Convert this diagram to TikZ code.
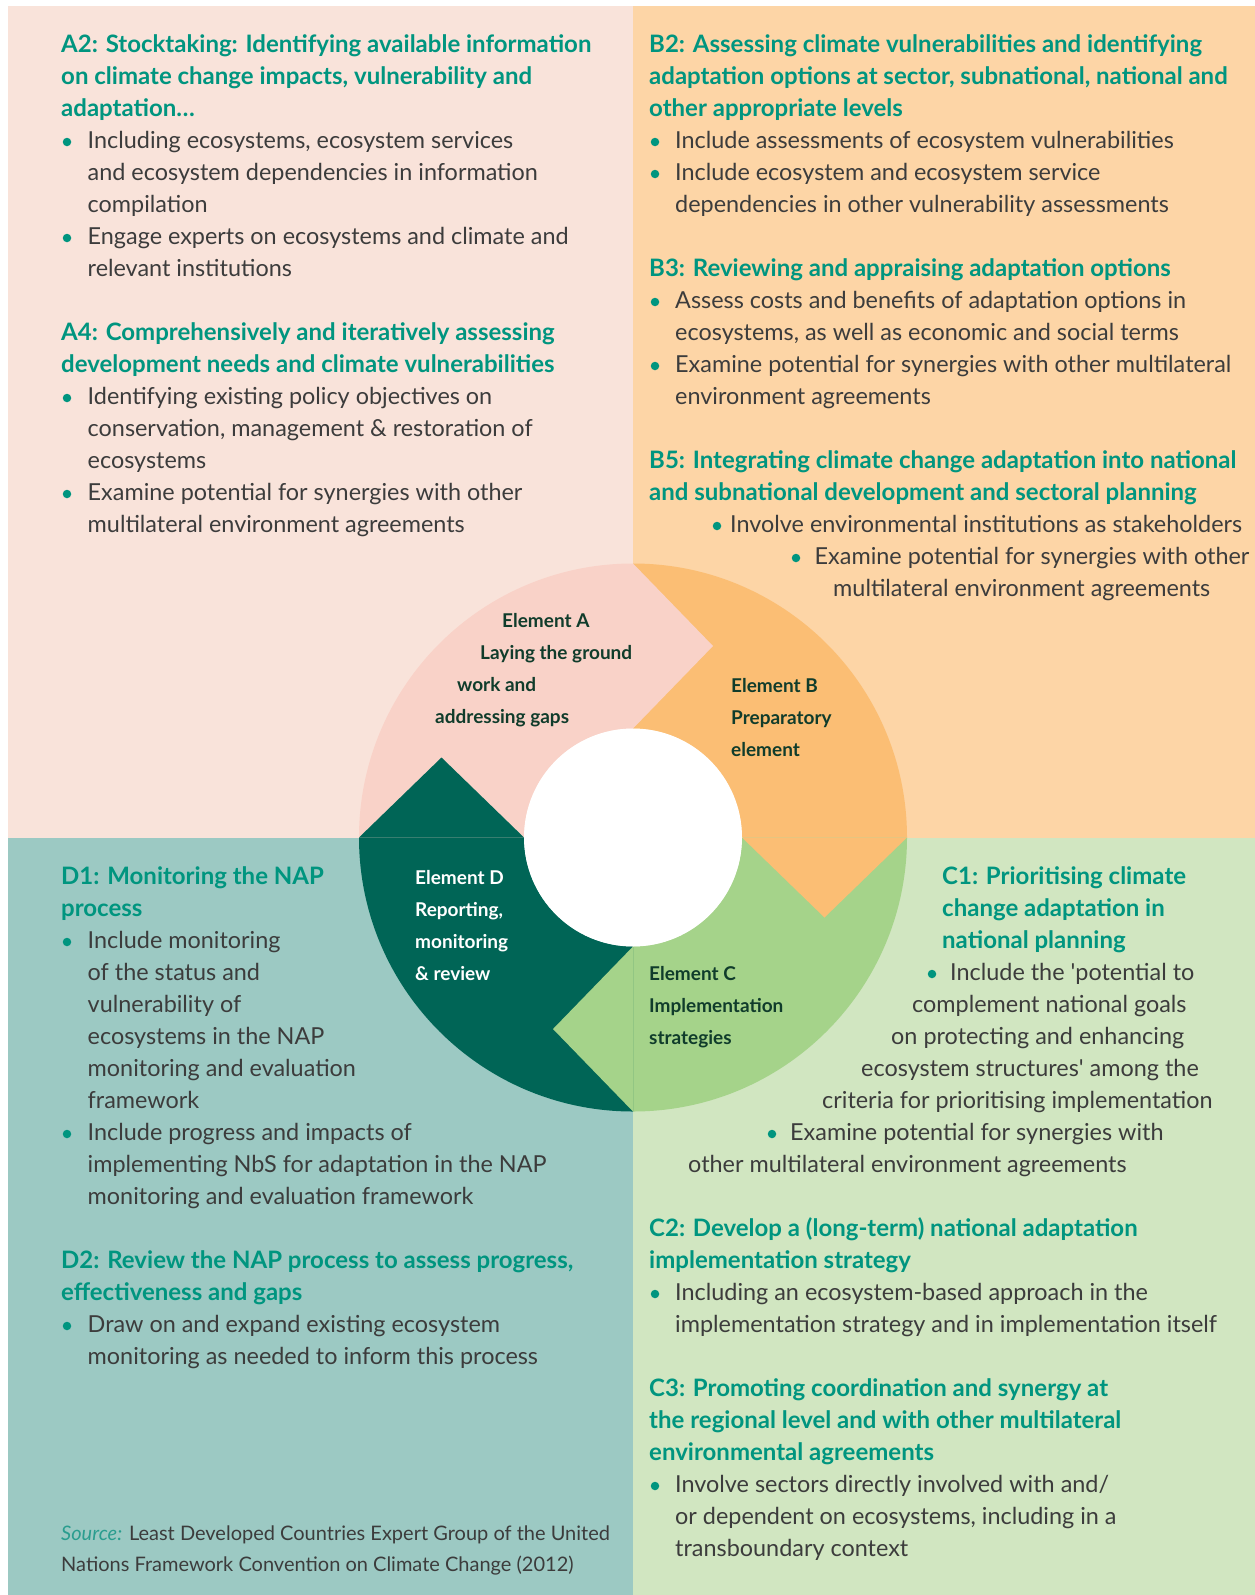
\documentclass[tikz,border=0pt]{standalone}
\usepackage{fontspec}
\setmainfont{Lato}
\definecolor{panelA}{HTML}{F9E3DA}
\definecolor{panelB}{HTML}{FDD5A6}
\definecolor{panelC}{HTML}{D1E6C1}
\definecolor{panelD}{HTML}{9CC9C3}
\definecolor{elemA}{HTML}{F9D2C8}
\definecolor{elemB}{HTML}{FBBE74}
\definecolor{elemC}{HTML}{A5D38A}
\definecolor{elemD}{HTML}{006556}
\definecolor{headteal}{HTML}{00957F}
\definecolor{bodygray}{HTML}{3C3C3C}
\definecolor{elemtext}{HTML}{103C2B}
\definecolor{srcteal}{HTML}{2A9D8F}
\tikzset{
  head/.style = {
      anchor=base west,
      inner sep=0pt,
      align=left,
      text=headteal,
      font=\fontsize{24}{32}\selectfont\bfseries
  },
  body/.style = {
      anchor=base west,
      inner sep=0pt,
      align=left,
      text=bodygray,
      font=\fontsize{23.4}{32}\selectfont
  },
  source/.style = {
      body,
      font=\fontsize{20}{31.5}\selectfont
  },
  dot/.style = {
      circle,
      fill=headteal,
      inner sep=0pt,
      minimum size=8.5pt
  },
  elem/.style = {
      anchor=base west,
      inner sep=0pt,
      text=elemtext,
      font=\fontsize{19}{32}\selectfont\bfseries
  },
  elemwhite/.style = {
      elem,
      align=left,
      text=white
  }
}
\begin{document}
\begin{tikzpicture}[x=1pt,y=-1pt]
    \useasboundingbox (0,0) rectangle (1255,1595);
    \fill[white] (0,0) rectangle (1255,1595);
    % Panels
    \fill[panelA] (8,6) rectangle (633,837.5);
    \fill[panelB] (633,6) rectangle (1255,837.5);
    \fill[panelC] (633,837.5) rectangle (1255,1595);
    \fill[panelD] (8,837.5) rectangle (633,1595);
    % Ring
    \begin{scope}[shift={(633,837.5)}]
        \fill[elemA] (180:274) arc[start angle=180, end angle=270, radius=274]
            -- (270:109) arc[start angle=270, end angle=180, radius=109] -- cycle;
        \fill[elemB] (270:274) arc[start angle=270, end angle=360, radius=274]
            -- (0:109) arc[start angle=360, end angle=270, radius=109] -- cycle;
        \fill[elemC] (0:274) arc[start angle=0, end angle=90, radius=274]
            -- (90:109) arc[start angle=90, end angle=0, radius=109] -- cycle;
        \fill[elemD] (90:274) arc[start angle=90, end angle=180, radius=274]
            -- (180:109) arc[start angle=180, end angle=90, radius=109] -- cycle;
        % Heads
        \fill[elemA] (270:274) -- (80,-191.5) -- (270:109) -- cycle;
        \fill[elemB] (0:274) -- (191.5,80) -- (0:109) -- cycle;
        \fill[elemC] (90:274) -- (-80,191.5) -- (90:109) -- cycle;
        \fill[elemD] (180:274) -- (-191.5,-80) -- (180:109) -- cycle;
        \fill[white] (0,0) circle[radius=109];
    \end{scope}
    % Element labels (multi-line nodes sit on their last baseline)
    \node[elem] (elA1) at (502,627) {Element A};
    \node[elem] (elA2) at (480,659) {Laying the ground};
    \node[elem] (elA3) at (457,691) {work and};
    \node[elem] (elA4) at (435,723) {addressing gaps};
    \node[elem] (elB1) at (731,692) {Element B};
    \node[elem] (elB2) at (731,724) {Preparatory};
    \node[elem] (elB3) at (731,756) {element};
    \node[elem] (elC1) at (649,980) {Element C};
    \node[elem] (elC2) at (649,1012) {Implementation};
    \node[elem] (elC3) at (649,1044) {strategies};
    \node[elemwhite] (elD) at (415,980) {Element D\\Reporting,\\monitoring\\\& review};
    % Panel A
    \node[head] (a2) at (61,116) {A2: Stocktaking: Identifying available information\\on climate change impacts, vulnerability and\\adaptation…};
    \node[dot] (a2d1) at (67,142) {};
    \node[body] (a2b1) at (87.5,212) {Including ecosystems, ecosystem services\\and ecosystem dependencies in information\\compilation};
    \node[dot] (a2d2) at (67,238) {};
    \node[body] (a2b2) at (87.5,276) {Engage experts on ecosystems and climate and\\relevant institutions};
    \node[head] (a4) at (61,372) {A4: Comprehensively and iteratively assessing\\development needs and climate vulnerabilities};
    \node[dot] (a4d1) at (67,398) {};
    \node[body] (a4b1) at (87.5,468) {Identifying existing policy objectives on\\conservation, management \& restoration of\\ecosystems};
    \node[dot] (a4d2) at (67,494) {};
    \node[body] (a4b2) at (87.5,532) {Examine potential for synergies with other\\multilateral environment agreements};
    % Panel B
    \node[head] (b2) at (649,116) {B2: Assessing climate vulnerabilities and identifying\\adaptation options at sector, subnational, national and\\other appropriate levels};
    \node[dot] (b2d1) at (655,142) {};
    \node[body] (b2b1) at (675,148) {Include assessments of ecosystem vulnerabilities};
    \node[dot] (b2d2) at (655,174) {};
    \node[body] (b2b2) at (675,212) {Include ecosystem and ecosystem service\\dependencies in other vulnerability assessments};
    \node[head] (b3) at (649,276) {B3: Reviewing and appraising adaptation options};
    \node[dot] (b3d1) at (655,302) {};
    \node[body] (b3b1) at (675,340) {Assess costs and benefits of adaptation options in\\ecosystems, as well as economic and social terms};
    \node[dot] (b3d2) at (655,366) {};
    \node[body] (b3b2) at (675,404) {Examine potential for synergies with other multilateral\\environment agreements};
    \node[head] (b5) at (649,500) {B5: Integrating climate change adaptation into national\\and subnational development and sectoral planning};
    \node[dot] (b5d1) at (717,526) {};
    \node[body] (b5b1) at (730,532) {Involve environmental institutions as stakeholders};
    \node[dot] (b5d2) at (796,558) {};
    \node[body] (b5b2) at (814.5,564) {Examine potential for synergies with other};
    \node[body] (b5b3) at (833,596) {multilateral environment agreements};
    % Panel C
    \node[head] (c1) at (942,948) {C1: Prioritising climate\\change adaptation in\\national planning};
    \node[dot] (c1d1) at (932,974) {};
    \node[body] (c1b1) at (950,980) {Include the \textquotesingle potential to};
    \node[body] (c1b2) at (912,1012) {complement national goals};
    \node[body] (c1b3) at (891,1044) {on protecting and enhancing};
    \node[body] (c1b4) at (861,1076) {ecosystem structures\textquotesingle{} among the};
    \node[body] (c1b5) at (822,1108) {criteria for prioritising implementation};
    \node[dot] (c1d2) at (772,1134) {};
    \node[body] (c1b6) at (790,1140) {Examine potential for synergies with};
    \node[body] (c1b7) at (688,1172) {other multilateral environment agreements};
    \node[head] (c2) at (649,1268) {C2: Develop a (long-term) national adaptation\\implementation strategy};
    \node[dot] (c2d1) at (655,1294) {};
    \node[body] (c2b1) at (675,1332) {Including an ecosystem-based approach in the\\implementation strategy and in implementation itself};
    \node[head] (c3) at (649,1460) {C3: Promoting coordination and synergy at\\the regional level and with other multilateral\\environmental agreements};
    \node[dot] (c3d1) at (655,1486) {};
    \node[body] (c3b1) at (675,1556) {Involve sectors directly involved with and/\\or dependent on ecosystems, including in a\\transboundary context};
    % Panel D
    \node[head] (d1) at (61,916) {D1: Monitoring the NAP\\process};
    \node[dot] (d1d1) at (67,942) {};
    \node[body] (d1b1) at (87.5,1108) {Include monitoring\\of the status and\\vulnerability of\\ecosystems in the NAP\\monitoring and evaluation\\framework};
    \node[dot] (d1d2) at (67,1134) {};
    \node[body] (d1b2) at (87.5,1204) {Include progress and impacts of\\implementing NbS for adaptation in the NAP\\monitoring and evaluation framework};
    \node[head] (d2) at (61,1300) {D2: Review the NAP process to assess progress,\\effectiveness and gaps};
    \node[dot] (d2d1) at (67,1326) {};
    \node[body] (d2b1) at (87.5,1364) {Draw on and expand existing ecosystem\\monitoring as needed to inform this process};
    \node[source] (src) at (61,1571.5) {{\color{srcteal}\itshape Source:} Least Developed Countries Expert Group of the United\\Nations Framework Convention on Climate Change (2012)};
\end{tikzpicture}
\end{document}
